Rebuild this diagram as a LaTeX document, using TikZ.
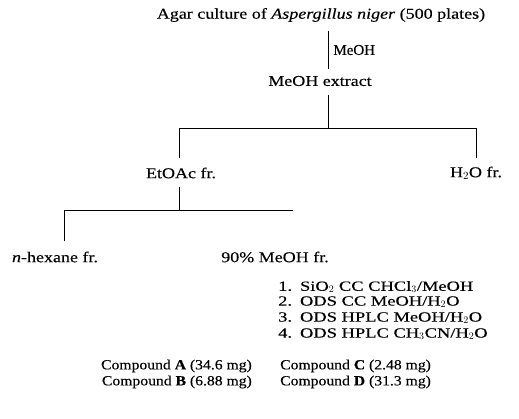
\documentclass[tikz,border=0pt]{standalone}
\usepackage{fontspec}
\setmainfont{Liberation Serif}[FakeBold=0.3]
\newfontfamily\wideserif[FakeStretch=1.2,FakeBold=0.3]{Liberation Serif}
\newfontfamily\widerserif[FakeStretch=1.32,FakeBold=0.3]{Liberation Serif}
\newfontfamily\cmpserif[FakeStretch=1.12,FakeBold=0.3]{Liberation Serif}
\begin{document}
\begin{tikzpicture}[x=1pt,y=-1pt,
  lbl/.style={inner sep=0pt,font=\wideserif\fontsize{15}{17}\selectfont},
  plain/.style={inner sep=0pt,font=\fontsize{15}{17}\selectfont},
  lst/.style={inner sep=0pt,anchor=west,font=\widerserif\fontsize{14}{15}\selectfont},
  cmp/.style={inner sep=0pt,font=\cmpserif\fontsize{14}{15}\selectfont},
  link/.style={draw=black,line width=0.8pt}]
\useasboundingbox (0,0) rectangle (519,418);
\node[lbl] (agar) at (321,15) {Agar culture of \textit{Aspergillus niger} (500 plates)};
\node[lbl] (ext) at (320,81) {MeOH extract};
\coordinate (a1) at (328,31);
\coordinate (a2) at (328,69);
\draw[link] (a1) -- node[plain,right=5pt,pos=0.5] (meoh) {MeOH} (a2);
\node[lbl] (etoac) at (181,173) {EtOAc fr.};
\node[lbl] (h2o) at (476,173) {H$_2$O fr.};
\coordinate (b1) at (328,95);
\coordinate (b2) at (328,128);
\coordinate (bl) at (179,128);
\coordinate (br) at (476,128);
\coordinate (bl2) at (179,158);
\coordinate (br2) at (476,158);
\draw[link] (b1) -- (b2);
\draw[link] (bl2) -- (bl) -- (br) -- (br2);
\node[lbl] (hex) at (55,257) {\textit{n}-hexane fr.};
\node[lbl] (ninety) at (275,257) {90\% MeOH fr.};
\coordinate (c1) at (179,187);
\coordinate (c2) at (179,210);
\coordinate (cl) at (64,210);
\coordinate (cr) at (293,210);
\coordinate (cl2) at (64,241);
\draw[link] (c1) -- (c2);
\draw[link] (cl2) -- (cl) -- (cr);
\node[lst] (s1) at (278,287) {1.\hspace{8pt}SiO$_2$ CC CHCl$_3$/MeOH};
\node[lst] (s2) at (278,302) {2.\hspace{8pt}ODS CC MeOH/H$_2$O};
\node[lst] (s3) at (278,318) {3.\hspace{8pt}ODS HPLC MeOH/H$_2$O};
\node[lst] (s4) at (278,334) {4.\hspace{8pt}ODS HPLC CH$_3$CN/H$_2$O};
\node[cmp,anchor=east] (ca) at (252,366) {Compound \textbf{A} (34.6 mg)};
\node[cmp,anchor=east] (cb) at (252,382) {Compound \textbf{B} (6.88 mg)};
\node[cmp,anchor=west] (cc) at (280,366) {Compound \textbf{C} (2.48 mg)};
\node[cmp,anchor=west] (cd) at (280,382) {Compound \textbf{D} (31.3 mg)};
\end{tikzpicture}
\end{document}
